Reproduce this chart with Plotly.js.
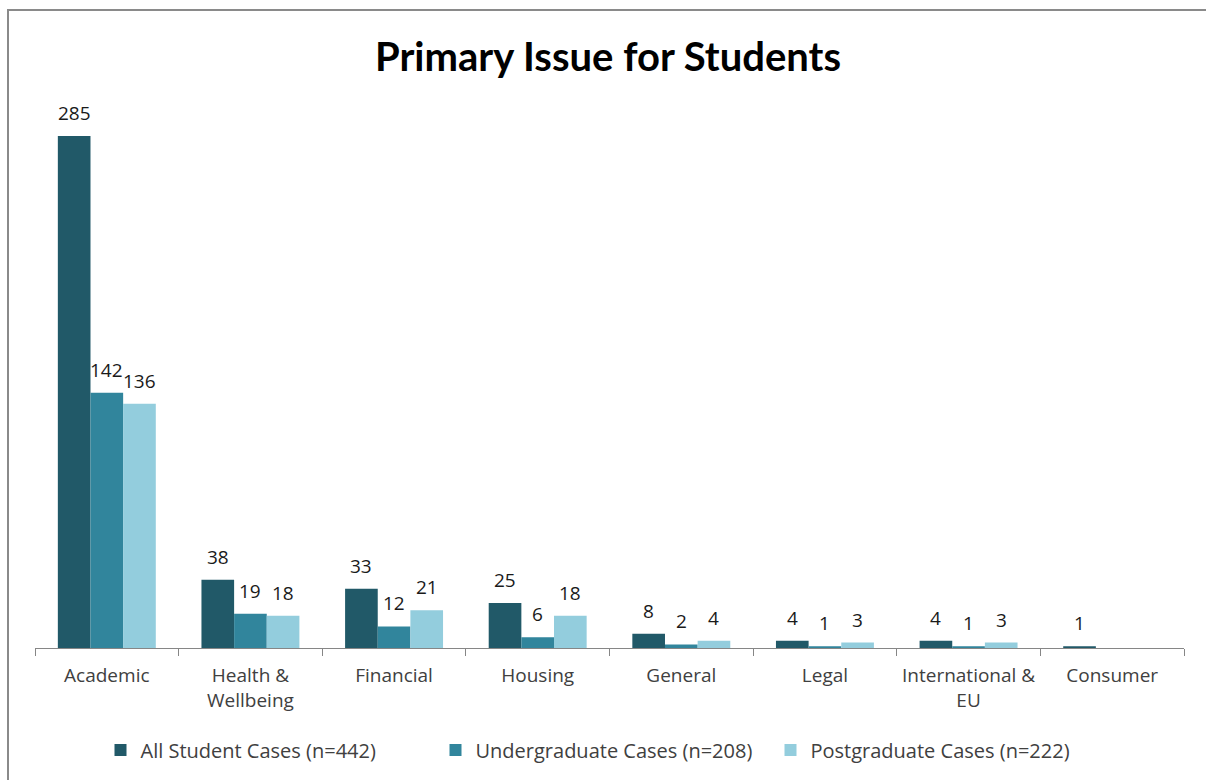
<!DOCTYPE html>
<html>
<head>
<meta charset="utf-8">
<script src="https://cdn.plot.ly/plotly-3.0.1.min.js"></script>
<style>
  html, body { margin: 0; padding: 0; background: #fff; overflow: hidden; }
  #chart { position: absolute; left: 0; top: 0; width: 1206px; height: 780px; }
  #frame {
    position: absolute; left: 7px; top: 9px; width: 1400px; height: 1000px;
    border-left: 2px solid #8a8a8a; border-top: 2px solid #8a8a8a;
    pointer-events: none;
  }
</style>
</head>
<body>
<div id="chart"></div>
<div id="frame"></div>
<script>
// Issue categories and case counts per student group
const categories = ['Academic', 'Health &<br>Wellbeing', 'Financial', 'Housing', 'General', 'Legal', 'International &<br>EU', 'Consumer'];
const allStudentCases = [285, 38, 33, 25, 8, 4, 4, 1];
const undergraduateCases = [142, 19, 12, 6, 2, 1, 1, null];
const postgraduateCases = [136, 18, 21, 18, 4, 3, 3, null];
const seriesNames = ['All Student Cases (n=442)', 'Undergraduate Cases (n=208)', 'Postgraduate Cases (n=222)'];
const seriesColors = ['#215968', '#31859C', '#93CDDD'];

const bodyFont = '"Open Sans", "Noto Sans", sans-serif';
const W = 1206, H = 780;
const margin = { l: 35, r: 22, t: 109, b: 132 };
const bargap = 0.318;
const yMax = 300;

const seriesValues = [allStudentCases, undergraduateCases, postgraduateCases];

const traces = seriesValues.map((vals, s) => ({
  type: 'bar',
  name: seriesNames[s],
  x: categories,
  y: vals,
  marker: { color: seriesColors[s], line: { width: 0 } },
  hoverinfo: 'x+y+name'
}));

// Value labels sit above each bar, shifted sideways to the bar's slot in its group
const plotW = W - margin.l - margin.r;
const catW = plotW / categories.length;
const barW = catW * (1 - bargap) / seriesValues.length;
const annotations = [];
seriesValues.forEach((vals, s) => {
  vals.forEach((v, i) => {
    if (v === null) return;
    annotations.push({
      x: categories[i], y: v, xref: 'x', yref: 'y',
      text: String(v), showarrow: false,
      xanchor: 'center', yanchor: 'bottom',
      xshift: (s - (seriesValues.length - 1) / 2) * barW,
      yshift: 8,
      font: { family: bodyFont, size: 19, color: '#1a1a1a' }
    });
  });
});

const layout = {
  width: W, height: H,
  margin: margin,
  paper_bgcolor: '#ffffff',
  plot_bgcolor: '#ffffff',
  barmode: 'group',
  bargap: bargap,
  bargroupgap: 0,
  showlegend: true,
  title: {
    text: 'Primary Issue for Students',
    x: 608 / W, xanchor: 'center',
    y: 1 - 57 / H, yanchor: 'middle',
    font: { family: 'Lato, "Open Sans", sans-serif', size: 40, color: '#000000', weight: 'bold' }
  },
  xaxis: {
    type: 'category',
    showline: true, linecolor: '#868686', linewidth: 1,
    ticks: 'outside', tickson: 'boundaries', ticklen: 7, tickcolor: '#868686', tickwidth: 1,
    ticklabelstandoff: 10,
    showgrid: false, zeroline: false,
    tickfont: { family: bodyFont, size: 19, color: '#404040' },
    fixedrange: true
  },
  yaxis: {
    range: [0, yMax],
    showticklabels: false, showgrid: false, zeroline: false, showline: false, ticks: '',
    fixedrange: true
  },
  legend: {
    orientation: 'h',
    x: 0.5, xanchor: 'center', xref: 'container',
    y: 1 - 750 / H, yanchor: 'middle', yref: 'container',
    font: { family: bodyFont, size: 20, color: '#404040' },
    itemwidth: 30,
    entrywidth: 290, entrywidthmode: 'pixels',
    traceorder: 'normal'
  },
  annotations: annotations
};

Plotly.newPlot('chart', traces, layout, { displayModeBar: false, staticPlot: true });
</script>
</body>
</html>
